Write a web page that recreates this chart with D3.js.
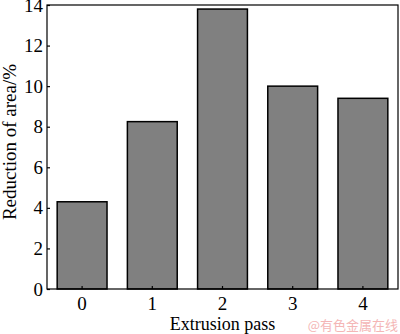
<!DOCTYPE html>
<html>
<head>
<meta charset="utf-8">
<script src="https://cdn.jsdelivr.net/npm/d3@7"></script>
<style>
body{margin:0;background:#fff;}
text{font-family:"Liberation Serif","Times New Roman",serif;}
</style>
</head>
<body>
<svg></svg>
<script>
var passes=["0","1","2","3","4"];
var reduction=[4.3,8.25,13.8,10.0,9.4];
var yTicks=[0,2,4,6,8,10,12,14];

var w=400;
var h=334;
var margin={top:5,right:2,bottom:45,left:47};

var svg=d3.select("svg")
          .attr("width",w)
          .attr("height",h);

var xScale=d3.scaleBand()
             .domain(passes)
             .range([margin.left,w-margin.right])
             .paddingInner(0.29)
             .paddingOuter(0.145);
var yScale=d3.scaleLinear()
             .domain([0,14])
             .range([h-margin.bottom,margin.top]);

// bars
svg.append("g")
   .selectAll("rect")
   .data(reduction)
   .enter()
   .append("rect")
   .attr("x",function(d,i){return xScale(passes[i]);})
   .attr("y",function(d){return yScale(d);})
   .attr("width",xScale.bandwidth())
   .attr("height",function(d){return yScale(0)-yScale(d);})
   .attr("fill","#808080")
   .attr("stroke","#000")
   .attr("stroke-width",1.5);

// frame
svg.append("rect")
   .attr("x",margin.left)
   .attr("y",margin.top)
   .attr("width",w-margin.left-margin.right)
   .attr("height",h-margin.top-margin.bottom)
   .attr("fill","none")
   .attr("stroke","#000")
   .attr("stroke-width",1.2);

var xAxis=d3.axisBottom(xScale)
            .tickSizeInner(-3)
            .tickSizeOuter(0)
            .tickPadding(8);
var yAxis=d3.axisLeft(yScale)
            .tickValues(yTicks)
            .tickSizeInner(-3)
            .tickSizeOuter(0)
            .tickPadding(4);

var gx=svg.append("g")
   .attr("transform","translate(0,"+(h-margin.bottom)+")")
   .call(xAxis);
var gy=svg.append("g")
   .attr("transform","translate("+margin.left+",0)")
   .call(yAxis);
[gx,gy].forEach(function(g){
  g.attr("font-family","Liberation Serif").attr("font-size",19);
  g.select(".domain").remove();
  g.selectAll("line").attr("stroke","#000").attr("stroke-width",1.2);
  g.selectAll("text").attr("fill","#000");
});

svg.append("text")
   .attr("x",(margin.left+w-margin.right)/2)
   .attr("y",330)
   .attr("text-anchor","middle")
   .style("font-size","18px")
   .text("Extrusion pass");

svg.append("text")
   .attr("transform","translate(16,142) rotate(-90)")
   .attr("text-anchor","middle")
   .style("font-size","19px")
   .text("Reduction of area/%");

svg.append("text")
   .attr("x",398)
   .attr("y",330)
   .attr("text-anchor","end")
   .attr("fill","#f4b6b6")
   .style("font-size","13px")
   .style("font-family","'Noto Sans CJK SC',sans-serif")
   .text("@有色金属在线");
</script>
</body>
</html>
